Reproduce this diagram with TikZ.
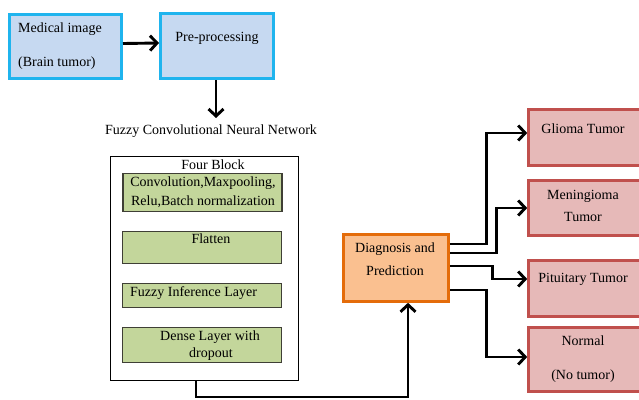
\documentclass[tikz,border=0pt]{standalone}
\usepackage{fontspec}
\setmainfont{Liberation Serif}
\usetikzlibrary{arrows.meta}
\definecolor{bluefill}{HTML}{C6D9F1}
\definecolor{blueline}{HTML}{1FB4EE}
\definecolor{greenfill}{HTML}{C3D69B}
\definecolor{greenline}{HTML}{3F3F35}
\definecolor{orfill}{HTML}{FAC090}
\definecolor{orline}{HTML}{E46C0A}
\definecolor{redfill}{HTML}{E6B9B8}
\definecolor{redline}{HTML}{C0504D}
\begin{document}
\begin{tikzpicture}[x=1pt,y=-1pt,
  font=\fontsize{14}{16}\selectfont,
  bx/.style={draw, rectangle, inner sep=0pt},
  bluebox/.style={bx, draw=blueline, fill=bluefill, line width=3pt},
  greenbox/.style={bx, draw=greenline, fill=greenfill, line width=1.3pt, minimum width=159pt},
  orbox/.style={bx, draw=orline, fill=orfill, line width=2.6pt},
  redbox/.style={bx, draw=redline, fill=redfill, line width=2.6pt, minimum width=115pt},
  txt/.style={inner sep=0pt},
  arr/.style={line width=2.9pt, -{Straight Barb[length=7pt,width=15pt]}}
]
\useasboundingbox (0,0) rectangle (639,399);
\clip (0,0) rectangle (639,399);
% top boxes
\node[bluebox, minimum width=112pt, minimum height=64pt] (med) at (65.5,46.5) {};
\node[bluebox, minimum width=113pt, minimum height=65pt] (pre) at (217,46) {};
\node[txt, anchor=west] (medt1) at (18,29) {Medical image};
\node[txt, anchor=west] (medt2) at (18,63) {(Brain tumor)};
\node[txt] (pret) at (217,38) {Pre-processing};
\draw[arr] ([yshift=3pt]med.east) -- ([yshift=3pt]pre.west);
\coordinate (fcnnarrow) at (216,118);
\draw[arr] ([xshift=-1pt]pre.south) -- (fcnnarrow);
\node[txt] (fcnn) at (211,131) {Fuzzy Convolutional Neural Network};
% outer block
\node[bx, draw=black, line width=0.9pt, minimum width=188pt, minimum height=224pt] (outer) at (204.5,268.5) {};
\node[txt] (four) at (213,165) {Four Block};
\node[greenbox, minimum height=38pt] (g1) at (202.5,192.5) {};
\node[greenbox, minimum height=32pt] (g2) at (202,247.5) {};
\node[greenbox, minimum height=24pt] (g3) at (202,295.5) {};
\node[greenbox, minimum height=35pt] (g4) at (202,345) {};
\node[txt] (g1a) at (203,183) {Convolution,Maxpooling,};
\node[txt] (g1b) at (203,202) {Relu,Batch normalization};
\node[txt] (g2t) at (211,239) {Flatten};
\node[txt, anchor=west] (g3t) at (130,293) {Fuzzy Inference Layer};
\node[txt] (g4a) at (210,337) {Dense Layer with};
\node[txt] (g4b) at (211,354) {dropout};
% diagnosis
\node[orbox, minimum width=105pt, minimum height=67pt] (diag) at (396,268) {};
\node[txt] (diag1) at (395,249) {Diagnosis and};
\node[txt] (diag2) at (395,271) {Prediction};
% outputs
\node[redbox, minimum height=56pt] (glioma) at (586,137.5) {};
\node[redbox, minimum height=55pt] (menin) at (586,208) {};
\node[redbox, minimum height=56pt] (pitu) at (586,288.5) {};
\node[redbox, minimum height=64pt] (normal) at (586,359.5) {};
\node[txt] (gliomat) at (583,129) {Glioma Tumor};
\node[txt] (menint1) at (583,196) {Meningioma};
\node[txt] (menint2) at (583,217) {Tumor};
\node[txt] (pitut) at (583,279) {Pituitary Tumor};
\node[txt] (normalt1) at (583,341) {Normal};
\node[txt] (normalt2) at (583,376) {(No tumor)};
% connectors
\draw[arr] ([xshift=-8.5pt]outer.south) -- ++(0,16) -| ([xshift=12pt]diag.south);
\draw[arr] ([yshift=24pt]diag.east) -| ([xshift=-40.5pt,yshift=4.5pt]glioma.west) -- ([yshift=4.5pt]glioma.west);
\draw[arr] ([yshift=15pt]diag.east) -| ([xshift=-30.5pt]menin.west) -- (menin.west);
\draw[arr] ([yshift=2pt]diag.east) -| ([xshift=-34.5pt,yshift=9.5pt]pitu.west) -- ([yshift=9.5pt]pitu.west);
\draw[arr] ([yshift=-22pt]diag.east) -| ([xshift=-40.5pt,yshift=2.5pt]normal.west) -- ([yshift=2.5pt]normal.west);
\end{tikzpicture}
\end{document}
